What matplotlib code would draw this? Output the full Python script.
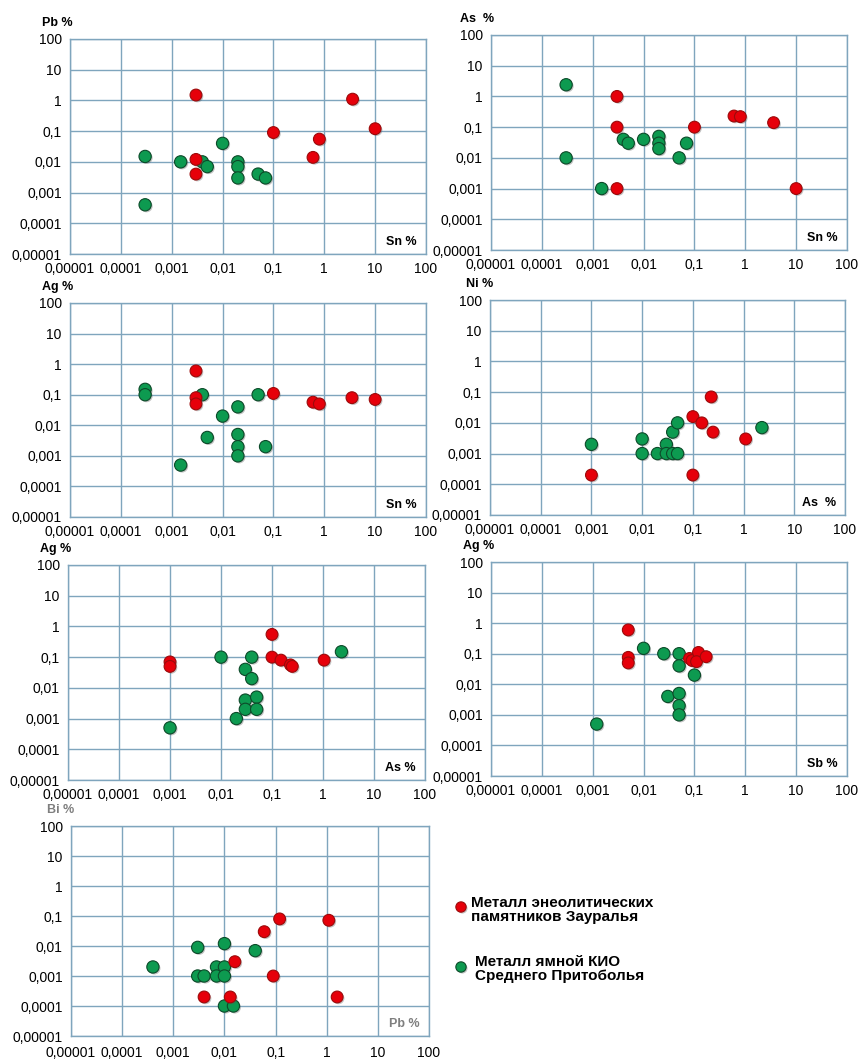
"""Log-log scatter panels: trace elements in Eneolithic Trans-Ural metal vs Yamnaya metal."""

import matplotlib

matplotlib.use("Agg")
import matplotlib.patheffects as pe
import matplotlib.pyplot as plt

plt.rcParams["font.family"] = ["Liberation Sans", "DejaVu Sans"]

# decade ticks shared by every axis
DECADES = [1e-5, 1e-4, 1e-3, 1e-2, 1e-1, 1, 10, 100]
DECADE_LABELS = ["0,00001", "0,0001", "0,001", "0,01", "0,1", "1", "10", "100"]

LEGEND_RED = "Металл энеолитических\nпамятников Зауралья"
LEGEND_GREEN = "Металл ямной КИО\nСреднего Притоболья"

# Sn % vs Pb %
sn_pb_red_x = [0.003, 0.003, 0.003, 0.1, 0.6, 0.8, 3.6, 10]
sn_pb_red_y = [1.5, 0.012, 0.004, 0.09, 0.014, 0.055, 1.1, 0.12]
sn_pb_green_x = [0.0003, 0.0003, 0.0015, 0.004, 0.005, 0.01, 0.02, 0.02, 0.02, 0.05, 0.07]
sn_pb_green_y = [0.015, 0.0004, 0.01, 0.01, 0.007, 0.04, 0.01, 0.007, 0.003, 0.004, 0.003]

# Sn % vs As %
sn_as_red_x = [0.003, 0.003, 0.003, 0.1, 0.6, 0.8, 3.6, 10]
sn_as_red_y = [1.0, 0.1, 0.001, 0.1, 0.23, 0.22, 0.14, 0.001]
sn_as_green_x = [0.0003, 0.0003, 0.0015, 0.004, 0.005, 0.01, 0.02, 0.02, 0.02, 0.05, 0.07]
sn_as_green_y = [2.4, 0.01, 0.001, 0.04, 0.03, 0.04, 0.05, 0.03, 0.02, 0.01, 0.03]

# Sn % vs Ag %
sn_ag_red_x = [0.003, 0.003, 0.003, 0.1, 0.6, 0.8, 3.5, 10]
sn_ag_red_y = [0.6, 0.08, 0.05, 0.11, 0.057, 0.05, 0.08, 0.07]
sn_ag_green_x = [0.0003, 0.0003, 0.0015, 0.004, 0.005, 0.01, 0.02, 0.02, 0.02, 0.02, 0.05, 0.07]
sn_ag_green_y = [0.15, 0.1, 0.0005, 0.1, 0.004, 0.02, 0.04, 0.005, 0.002, 0.001, 0.1, 0.002]

# As % vs Ni %
as_ni_red_x = [0.001, 0.1, 0.1, 0.15, 0.23, 0.25, 1.1]
as_ni_red_y = [0.0002, 0.016, 0.0002, 0.01, 0.07, 0.005, 0.003]
as_ni_green_x = [0.001, 0.01, 0.01, 0.02, 0.03, 0.03, 0.04, 0.05, 0.04, 0.05, 2.3]
as_ni_green_y = [0.002, 0.003, 0.001, 0.001, 0.002, 0.001, 0.001, 0.001, 0.005, 0.01, 0.007]

# As % vs Ag %
as_ag_red_x = [0.001, 0.001, 0.1, 0.1, 0.15, 0.23, 0.25, 1.05]
as_ag_red_y = [0.07, 0.05, 0.55, 0.1, 0.08, 0.056, 0.05, 0.08]
as_ag_green_x = [0.001, 0.01, 0.02, 0.03, 0.03, 0.03, 0.04, 0.04, 0.05, 0.05, 2.3]
as_ag_green_y = [0.0005, 0.1, 0.001, 0.04, 0.004, 0.002, 0.1, 0.02, 0.005, 0.002, 0.15]

# Sb % vs Ag %
sb_ag_red_x = [0.005, 0.005, 0.005, 0.08, 0.09, 0.12, 0.11, 0.17]
sb_ag_red_y = [0.6, 0.076, 0.05, 0.07, 0.06, 0.11, 0.055, 0.08]
sb_ag_green_x = [0.0012, 0.01, 0.025, 0.03, 0.05, 0.05, 0.05, 0.05, 0.05, 0.1]
sb_ag_green_y = [0.0005, 0.15, 0.1, 0.004, 0.1, 0.04, 0.005, 0.002, 0.001, 0.02]

# Pb % vs Bi %
pb_bi_red_x = [0.004, 0.013, 0.016, 0.06, 0.09, 0.12, 1.1, 1.6]
pb_bi_red_y = [0.0002, 0.0002, 0.003, 0.03, 0.001, 0.08, 0.072, 0.0002]
pb_bi_green_x = [0.0004, 0.003, 0.003, 0.004, 0.007, 0.007, 0.01, 0.01, 0.01, 0.01, 0.015, 0.04]
pb_bi_green_y = [0.002, 0.009, 0.001, 0.001, 0.002, 0.001, 0.012, 0.002, 0.001, 0.0001, 0.0001, 0.007]

FIG_W, FIG_H = 858, 1061
GRID_COLOR = "#7fa5bd"
RED, RED_EDGE = "#e6000a", "#9c0a0a"
GREEN, GREEN_EDGE = "#0d9a50", "#0c4a29"


def px_box(left, top, width, height):
    """Pixel box (from top-left) -> figure fraction rect."""
    return [left / FIG_W, 1 - (top + height) / FIG_H, width / FIG_W, height / FIG_H]


def draw_points(ax, x, y, face, edge, size=78):
    sc = ax.scatter(x, y, s=size, c=face, edgecolors=edge, linewidths=0.8, zorder=3)
    sc.set_path_effects(
        [pe.SimplePatchShadow(offset=(1.0, -1.0), shadow_rgbFace="#555555", alpha=0.35), pe.Normal()]
    )


def draw_panel(fig, box, xlabel, ylabel, red, green, label_color="black", xpad=6):
    ax = fig.add_axes(px_box(*box))
    ax.set_xscale("log")
    ax.set_yscale("log")
    ax.set_xlim(DECADES[0], DECADES[-1])
    ax.set_ylim(DECADES[0], DECADES[-1])
    ax.set_xticks(DECADES)
    ax.set_yticks(DECADES)
    ax.set_xticklabels(DECADE_LABELS)
    ax.set_yticklabels(DECADE_LABELS)
    ax.minorticks_off()
    ax.tick_params(length=0, labelsize=10, pad=6, colors="black")
    ax.tick_params(axis="x", pad=xpad)
    ax.grid(True, color=GRID_COLOR, linewidth=1.0)
    ax.set_axisbelow(True)
    for sp in ax.spines.values():
        sp.set_color(GRID_COLOR)
        sp.set_linewidth(1.0)

    draw_points(ax, green[0], green[1], GREEN, GREEN_EDGE)
    draw_points(ax, red[0], red[1], RED, RED_EDGE, size=72)

    # axis names: y above the axis at top-left, x inside at bottom-right
    ax.text(0.0 + 3 / box[2], 1 + 16 / box[3], ylabel, transform=ax.transAxes,
            ha="right", va="center", fontsize=9, fontweight="bold", color=label_color)
    ax.text(1 - 9 / box[2], 12 / box[3], xlabel, transform=ax.transAxes,
            ha="right", va="center", fontsize=9, fontweight="bold", color=label_color)
    return ax


def main():
    fig = plt.figure(figsize=(FIG_W / 100, FIG_H / 100), dpi=100)

    panels = [
        ((70, 39, 356, 215), "Sn %", "Pb %", (sn_pb_red_x, sn_pb_red_y), (sn_pb_green_x, sn_pb_green_y), "black", 6),
        ((491, 35, 356, 215), "Sn %", "As  %", (sn_as_red_x, sn_as_red_y), (sn_as_green_x, sn_as_green_y), "black", 6),
        ((70, 303, 356, 214), "Sn %", "Ag %", (sn_ag_red_x, sn_ag_red_y), (sn_ag_green_x, sn_ag_green_y), "black", 6),
        ((490, 300, 355, 215), "As  %", "Ni %", (as_ni_red_x, as_ni_red_y), (as_ni_green_x, as_ni_green_y), "black", 6),
        ((68, 565, 357, 215), "As %", "Ag %", (as_ag_red_x, as_ag_red_y), (as_ag_green_x, as_ag_green_y), "black", 6),
        ((491, 562, 356, 214), "Sb %", "Ag %", (sb_ag_red_x, sb_ag_red_y), (sb_ag_green_x, sb_ag_green_y), "black", 6),
        ((71, 826, 358, 210), "Pb %", "Bi %", (pb_bi_red_x, pb_bi_red_y), (pb_bi_green_x, pb_bi_green_y), "#7f7f7f", 7),
    ]
    for box, xl, yl, red, green, col, xpad in panels:
        draw_panel(fig, box, xl, yl, red, green, col, xpad)

    # legend drawn by hand in the empty bottom-right cell
    leg = fig.add_axes([0, 0, 1, 1])
    leg.set_xlim(0, FIG_W)
    leg.set_ylim(FIG_H, 0)
    leg.axis("off")
    draw_points(leg, [461], [907], RED, RED_EDGE, size=55)
    draw_points(leg, [461], [967], GREEN, GREEN_EDGE, size=55)
    leg.text(471, 910, LEGEND_RED, ha="left", va="center", fontsize=11,
             fontweight="bold", linespacing=1.0)
    leg.text(475, 969, LEGEND_GREEN, ha="left", va="center", fontsize=11,
             fontweight="bold", linespacing=1.0)

    fig.savefig("out.png", dpi=100)


if __name__ == "__main__":
    main()
